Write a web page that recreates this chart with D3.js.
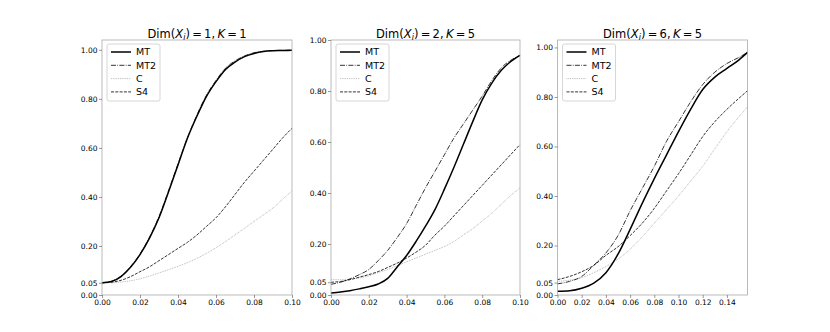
<!DOCTYPE html>
<html>
<head>
<meta charset="utf-8">
<script src="https://cdnjs.cloudflare.com/ajax/libs/d3/7.8.5/d3.min.js"></script>
<style>
  body { margin: 0; background: #fff; }
  text { font-family: "DejaVu Sans", sans-serif; }
</style>
</head>
<body>
<svg id="chart" width="830" height="332"></svg>
<script>
// ---- data ----
var series = ["MT", "MT2", "C", "S4"];

var x1 = [0, 0.005, 0.01, 0.015, 0.02, 0.025, 0.03, 0.035, 0.04, 0.045, 0.05, 0.055, 0.06, 0.065, 0.07, 0.075, 0.08, 0.085, 0.09, 0.095, 0.1];
var mt_1  = [0.05, 0.055, 0.075, 0.113, 0.165, 0.232, 0.315, 0.42, 0.53, 0.64, 0.73, 0.81, 0.87, 0.92, 0.95, 0.972, 0.985, 0.993, 0.996, 0.997, 0.998];
var mt2_1 = [0.05, 0.056, 0.077, 0.115, 0.168, 0.236, 0.32, 0.425, 0.535, 0.642, 0.735, 0.815, 0.875, 0.925, 0.955, 0.975, 0.988, 0.994, 0.997, 0.998, 0.999];
var c_1   = [0.05, 0.05, 0.053, 0.058, 0.066, 0.077, 0.09, 0.103, 0.117, 0.132, 0.15, 0.17, 0.193, 0.218, 0.245, 0.272, 0.3, 0.327, 0.355, 0.39, 0.425];
var s4_1  = [0.05, 0.052, 0.06, 0.075, 0.095, 0.115, 0.14, 0.165, 0.19, 0.215, 0.245, 0.28, 0.315, 0.36, 0.41, 0.46, 0.505, 0.55, 0.595, 0.64, 0.68];

var x2 = x1;
var mt_2  = [0.008, 0.012, 0.017, 0.024, 0.032, 0.043, 0.065, 0.11, 0.155, 0.21, 0.27, 0.335, 0.415, 0.5, 0.59, 0.68, 0.765, 0.83, 0.88, 0.915, 0.94];
var mt2_2 = [0.042, 0.05, 0.063, 0.08, 0.1, 0.135, 0.175, 0.225, 0.28, 0.35, 0.42, 0.485, 0.55, 0.615, 0.67, 0.725, 0.78, 0.84, 0.89, 0.92, 0.94];
var c_2   = [0.06, 0.06, 0.062, 0.067, 0.075, 0.088, 0.1, 0.115, 0.13, 0.145, 0.16, 0.175, 0.19, 0.21, 0.235, 0.26, 0.29, 0.32, 0.355, 0.39, 0.42];
var s4_2  = [0.05, 0.053, 0.06, 0.07, 0.08, 0.092, 0.108, 0.125, 0.145, 0.168, 0.195, 0.235, 0.27, 0.31, 0.35, 0.39, 0.43, 0.47, 0.51, 0.55, 0.59];

var x3 = [0, 0.01, 0.02, 0.03, 0.04, 0.05, 0.06, 0.07, 0.08, 0.09, 0.1, 0.11, 0.12, 0.13, 0.14, 0.15, 0.157];
var mt_3  = [0.015, 0.017, 0.027, 0.048, 0.09, 0.165, 0.265, 0.37, 0.47, 0.565, 0.66, 0.75, 0.83, 0.88, 0.915, 0.95, 0.98];
var mt2_3 = [0.045, 0.055, 0.075, 0.12, 0.17, 0.24, 0.34, 0.43, 0.52, 0.62, 0.7, 0.78, 0.85, 0.9, 0.935, 0.96, 0.98];
var c_3   = [0.055, 0.06, 0.07, 0.09, 0.115, 0.145, 0.185, 0.235, 0.29, 0.345, 0.4, 0.46, 0.52, 0.59, 0.66, 0.72, 0.76];
var s4_3  = [0.062, 0.075, 0.094, 0.12, 0.16, 0.195, 0.24, 0.29, 0.35, 0.42, 0.49, 0.565, 0.64, 0.7, 0.75, 0.795, 0.825];

var yTicks = [0, 0.05, 0.2, 0.4, 0.6, 0.8, 1.0];
var xTicks12 = [0, 0.02, 0.04, 0.06, 0.08, 0.1];
var xTicks3 = [0, 0.02, 0.04, 0.06, 0.08, 0.1, 0.12, 0.14];
var titles = [["1", "1"], ["2", "5"], ["6", "5"]];

// ---- styles ----
var styles = {
    "MT":  { stroke: "#000", width: 1.5, dash: null },
    "MT2": { stroke: "#000", width: 0.8, dash: "5,1.3,0.8,1.3" },
    "C":   { stroke: "#999", width: 0.8, dash: "0.8,1" },
    "S4":  { stroke: "#000", width: 0.8, dash: "3,1.3" }
};

var panels = [
    { left: 102, width: 190, xs: x1, xmax: 0.1, ymax: 1.04, ticks: xTicks12, data: [mt_1, mt2_1, c_1, s4_1], t: titles[0] },
    { left: 331, width: 189, xs: x2, xmax: 0.1, ymax: 1.0, ticks: xTicks12, data: [mt_2, mt2_2, c_2, s4_2], t: titles[1] },
    { left: 557.5, width: 190, xs: x3, xmax: 0.157, ymax: 1.03, ticks: xTicks3, data: [mt_3, mt2_3, c_3, s4_3], t: titles[2] }
];
var plotTop = 40, plotBottom = 295;

var svg = d3.select("#chart");
svg.append("rect").attr("width", 830).attr("height", 332).attr("fill", "#fff");

panels.forEach(function (p) {
    var x = d3.scaleLinear().domain([0, p.xmax]).range([p.left, p.left + p.width]);
    var y = d3.scaleLinear().domain([0, p.ymax]).range([plotBottom, plotTop]);
    var g = svg.append("g");

    // lines
    var line = d3.line().x(function (d) { return x(d[0]); }).y(function (d) { return y(d[1]); }).curve(d3.curveMonotoneX);
    // thin ones first so the solid line sits on top
    [2, 3, 1, 0].forEach(function (k) {
        var st = styles[series[k]];
        var pts = p.xs.map(function (v, i) { return [v, p.data[k][i]]; });
        g.append("path").attr("d", line(pts)).attr("fill", "none")
            .attr("stroke", st.stroke).attr("stroke-width", st.width)
            .attr("stroke-dasharray", st.dash);
    });

    // frame
    g.append("rect").attr("x", p.left).attr("y", plotTop).attr("width", p.width).attr("height", plotBottom - plotTop)
        .attr("fill", "none").attr("stroke", "#aaa").attr("stroke-width", 0.8);

    // axes
    var xa = g.append("g").attr("transform", "translate(0," + plotBottom + ")")
        .call(d3.axisBottom(x).tickValues(p.ticks).tickFormat(d3.format(".2f")).tickSize(3).tickPadding(1.5));
    var ya = g.append("g").attr("transform", "translate(" + p.left + ",0)")
        .call(d3.axisLeft(y).tickValues(yTicks).tickFormat(d3.format(".2f")).tickSize(3).tickPadding(1.5));
    [xa, ya].forEach(function (a) {
        a.select(".domain").remove();
        a.selectAll("line").attr("stroke", "#555").attr("stroke-width", 0.6);
        a.selectAll("text").attr("font-size", 7.5).attr("fill", "#000").attr("font-family", "DejaVu Sans");
    });

    // title
    var tt = g.append("text").attr("x", p.left + p.width / 2).attr("y", 37.5)
        .attr("text-anchor", "middle").attr("font-size", 11.5).attr("fill", "#000");
    tt.append("tspan").text("Dim(");
    tt.append("tspan").attr("font-style", "italic").text("X");
    tt.append("tspan").attr("font-style", "italic").attr("font-size", 8).attr("dy", 2.5).text("i");
    tt.append("tspan").attr("dy", -2.5).text(")\u2009=\u2009" + p.t[0] + ",\u2009");
    tt.append("tspan").attr("font-style", "italic").text("K");
    tt.append("tspan").text("\u2009=\u2009" + p.t[1]);

    // legend
    var lx = p.left + 5, ly = plotTop + 4;
    var lg = g.append("g");
    lg.append("rect").attr("x", lx).attr("y", ly).attr("width", 53).attr("height", 57).attr("rx", 2)
        .attr("fill", "#fff").attr("fill-opacity", 0.8).attr("stroke", "#ccc").attr("stroke-width", 0.8);
    series.forEach(function (s, i) {
        var st = styles[s];
        var yy = ly + 8 + i * 13.3;
        lg.append("line").attr("x1", lx + 4).attr("x2", lx + 24).attr("y1", yy).attr("y2", yy)
            .attr("stroke", st.stroke).attr("stroke-width", st.width).attr("stroke-dasharray", st.dash);
        lg.append("text").attr("x", lx + 29).attr("y", yy + 3.4).attr("font-size", 9.5).text(s);
    });
});
</script>
</body>
</html>
